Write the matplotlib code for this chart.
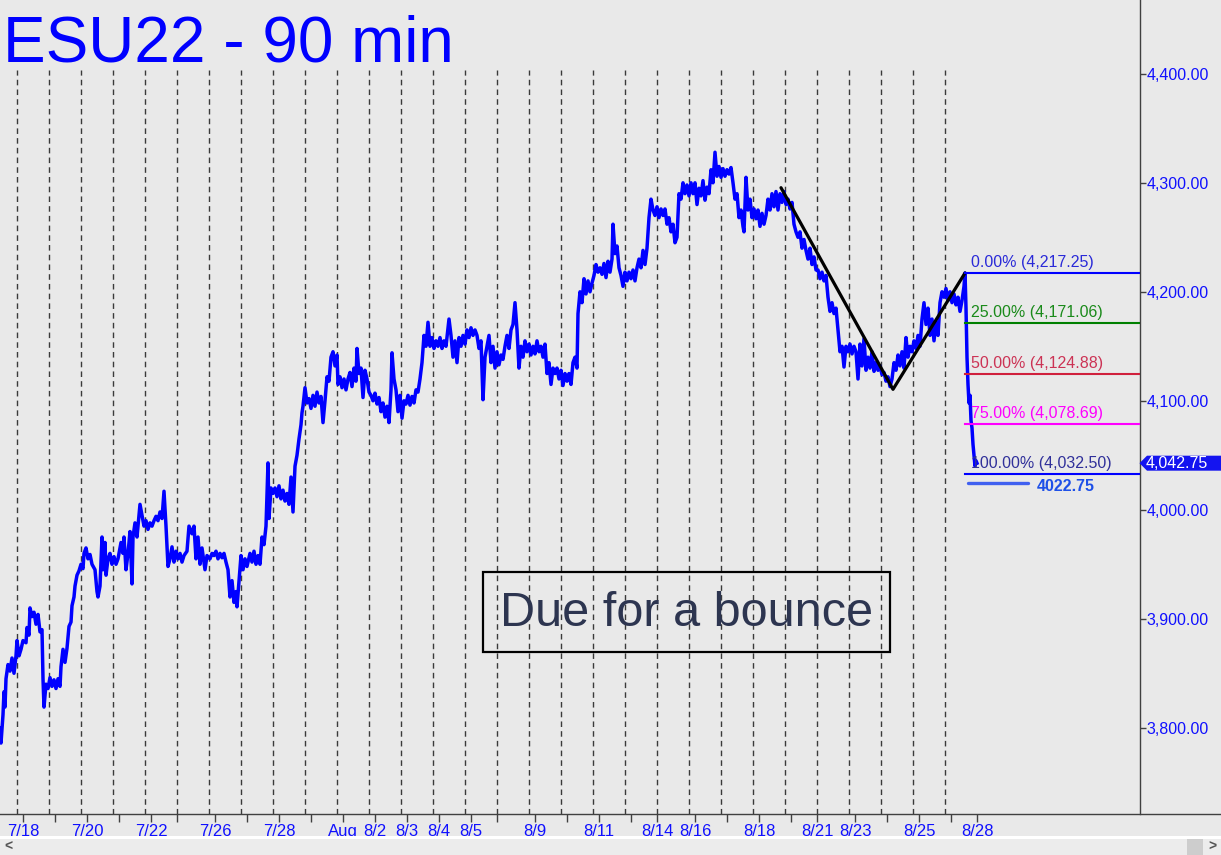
import numpy as np
import matplotlib
matplotlib.use("Agg")
import matplotlib.pyplot as plt
from matplotlib.patches import Rectangle, Polygon
from matplotlib.lines import Line2D
import matplotlib.transforms as mtransforms

plt.rcParams['font.family'] = ['Liberation Sans', 'DejaVu Sans']

# time axis: 45-minute steps counted from the 7/18 session open (32 steps per session)
t = [-17, -16, -14, -13, -12, -11, -9, -7, -5, -3, -1, 0, 2, 4, 6, 9, 10, 12, 13, 15,
     17, 19, 21, 23, 25, 26, 27, 29, 31, 33, 35, 37, 39, 41, 43, 44, 46, 48, 50, 52,
     54, 55, 57, 58, 60, 62, 64, 66, 67, 69, 71, 73, 75, 78, 80, 81, 83, 85, 86, 88,
     89, 91, 93, 95, 97, 99, 101, 104, 106, 107, 109, 111, 113, 115, 116, 118, 120, 122, 123, 125,
     127, 129, 131, 133, 135, 137, 139, 141, 143, 145, 147, 149, 151, 153, 155, 157, 159, 161, 163, 165,
     167, 170, 172, 175, 177, 179, 181, 183, 185, 188, 190, 193, 195, 197, 199, 201, 203, 205, 207, 209,
     211, 213, 215, 217, 219, 220, 222, 224, 226, 228, 230, 233, 235, 237, 239, 241, 243, 245, 247, 249,
     251, 252, 254, 256, 258, 260, 262, 264, 266, 268, 270, 272, 274, 276, 278, 280, 282, 284, 285, 286,
     288, 290, 292, 294, 296, 298, 300, 302, 304, 306, 308, 310, 312, 314, 316, 318, 320, 321, 323, 325,
     327, 329, 331, 333, 335, 337, 339, 340, 342, 344, 346, 348, 350, 352, 354, 356, 358, 360, 362, 364,
     366, 368, 370, 372, 374, 375, 377, 379, 381, 383, 385, 387, 389, 391, 393, 395, 397, 399, 401, 403,
     405, 407, 409, 411, 413, 415, 417, 419, 421, 423, 425, 427, 429, 432, 434, 436, 438, 440, 442, 444,
     446, 448, 450, 452, 454, 456, 458, 460, 462, 464, 466, 468, 470, 472, 474, 476, 478, 480, 482, 484,
     486, 488, 490, 492, 494, 496, 498, 500, 502, 504, 506, 508, 510, 512, 514, 516, 518, 520, 522, 524,
     526, 528, 530, 532, 534, 536, 538, 540, 542, 544, 546, 548, 550, 552, 554, 556, 558, 560, 561, 563,
     565, 567, 569, 571, 573, 575, 577, 579, 581, 583, 585, 587, 589, 591, 593, 595, 596, 598, 600, 602,
     604, 606, 608, 610, 612, 614, 616, 618, 620, 622, 624, 626, 628, 630, 632, 634, 636, 638, 640, 642,
     644, 646, 648, 650, 652, 654, 656, 658, 660, 662, 664, 666, 668, 670, 672, 674, 676, 678, 680, 682,
     684, 686, 688, 690, 692, 694, 696, 698, 700, 702, 704, 706, 708, 710, 712, 714, 716, 718, 720, 722,
     724, 726, 727, 729, 731, 733, 735, 737, 739, 741, 743, 745, 747, 749, 751, 753, 755, 757, 759, 761,
     763, 765, 767, 769, 771, 773, 775, 777, 779, 781, 783, 785, 787, 789, 791, 793, 795, 797, 799, 801,
     803, 805, 807, 809, 811, 813, 815, 817, 819, 821, 823, 825, 827, 829, 831, 833, 835, 837, 839, 841,
     843, 845, 847, 849, 851, 853, 855, 857, 859, 861, 863, 865, 867, 869, 871, 873, 875, 877, 879, 881,
     883, 885, 887, 889, 891, 893, 895, 897, 899, 901, 903, 905, 907, 909, 911, 913, 915, 917, 919, 921,
     923, 925, 927, 929, 931, 933, 935, 937, 939, 941, 943, 945, 947, 948, 949, 950, 951, 952, 953, 954,
     955, 956, 957, 958, 959, 960]

price = [3800, 3786, 3812, 3833, 3819, 3845, 3858, 3852, 3864, 3850, 3866, 3880, 3866, 3872, 3880, 3878, 3892, 3885, 3910, 3902,
         3906, 3895, 3904, 3888, 3890, 3845, 3819, 3840, 3836, 3846, 3838, 3844, 3836, 3845, 3838, 3856, 3872, 3860, 3873, 3893,
         3897, 3912, 3920, 3930, 3940, 3944, 3950, 3946, 3960, 3965, 3955, 3959, 3950, 3945, 3925, 3920, 3930, 3975, 3945, 3970,
         3940, 3955, 3960, 3950, 3957, 3950, 3955, 3970, 3960, 3975, 3945, 3960, 3980, 3932, 3975, 3988, 3975, 3995, 4005, 3995,
         3985, 3990, 3982, 3988, 3985, 3990, 3994, 3990, 3998, 3992, 4017, 3985, 3948, 3955, 3966, 3952, 3962, 3955, 3960, 3952,
         3958, 3962, 3985, 3978, 3985, 3955, 3975, 3950, 3965, 3945, 3958, 3955, 3960, 3958, 3962, 3955, 3960, 3956, 3960, 3952,
         3945, 3920, 3935, 3915, 3925, 3911, 3935, 3958, 3945, 3955, 3948, 3960, 3952, 3962, 3950, 3958, 3950, 3975, 3968, 3985,
         4043, 3992, 4020, 4015, 4020, 4012, 4022, 4010, 4018, 4008, 4015, 4005, 4030, 3998, 4040, 4050, 4065, 4078, 4089, 4095,
         4112, 4098, 4102, 4093, 4105, 4095, 4108, 4098, 4104, 4080, 4100, 4122, 4118, 4140, 4145, 4132, 4142, 4115, 4122, 4112,
         4120, 4110, 4120, 4126, 4113, 4130, 4118, 4148, 4125, 4130, 4103, 4128, 4120, 4108, 4105, 4100, 4107, 4097, 4103, 4090,
         4098, 4085, 4095, 4080, 4110, 4144, 4120, 4110, 4090, 4105, 4084, 4100, 4097, 4105, 4096, 4104, 4098, 4110, 4108, 4120,
         4135, 4160, 4150, 4172, 4150, 4158, 4148, 4155, 4150, 4158, 4148, 4155, 4150, 4175, 4160, 4140, 4155, 4135, 4158, 4150,
         4160, 4152, 4165, 4158, 4167, 4160, 4165, 4160, 4148, 4155, 4101, 4140, 4150, 4160, 4135, 4150, 4130, 4145, 4133, 4142,
         4138, 4150, 4160, 4148, 4165, 4170, 4190, 4165, 4130, 4150, 4140, 4155, 4145, 4152, 4142, 4150, 4143, 4155, 4145, 4150,
         4140, 4152, 4125, 4135, 4115, 4130, 4125, 4130, 4120, 4128, 4114, 4125, 4118, 4125, 4115, 4135, 4140, 4130, 4180, 4200,
         4190, 4212, 4198, 4210, 4200, 4208, 4215, 4225, 4218, 4222, 4216, 4226, 4213, 4228, 4218, 4230, 4262, 4235, 4242, 4222,
         4215, 4205, 4218, 4210, 4218, 4212, 4220, 4210, 4222, 4230, 4222, 4238, 4225, 4240, 4268, 4285, 4275, 4270, 4278, 4268,
         4276, 4270, 4276, 4262, 4268, 4255, 4262, 4245, 4250, 4290, 4285, 4300, 4290, 4298, 4288, 4300, 4290, 4300, 4280, 4295,
         4288, 4302, 4284, 4296, 4290, 4312, 4300, 4328, 4306, 4315, 4305, 4313, 4306, 4312, 4308, 4314, 4300, 4285, 4290, 4268,
         4275, 4260, 4255, 4305, 4275, 4285, 4268, 4276, 4267, 4275, 4260, 4272, 4262, 4270, 4285, 4275, 4290, 4278, 4292, 4275,
         4290, 4282, 4292, 4280, 4285, 4276, 4282, 4262, 4255, 4250, 4255, 4240, 4248, 4238, 4230, 4240, 4225, 4232, 4220, 4220,
         4212, 4218, 4210, 4215, 4195, 4182, 4190, 4180, 4185, 4165, 4145, 4150, 4131, 4150, 4145, 4152, 4143, 4150, 4145, 4120,
         4152, 4132, 4157, 4128, 4140, 4130, 4145, 4127, 4135, 4128, 4132, 4124, 4126, 4118, 4122, 4113, 4120, 4135, 4128, 4142,
         4132, 4145, 4130, 4158, 4140, 4150, 4145, 4155, 4148, 4160, 4150, 4175, 4190, 4170, 4185, 4160, 4175, 4155, 4172, 4160,
         4190, 4200, 4195, 4203, 4192, 4200, 4190, 4198, 4188, 4195, 4182, 4192, 4205, 4217.25, 4185, 4140, 4115, 4098, 4105, 4082,
         4075, 4060, 4050, 4040, 4045, 4042.75]

# date ticks (same time units)
tick_pos = [6, 38, 70, 102, 134, 160, 198, 230, 262, 294, 326, 358, 390, 422, 454, 480,
            518, 550, 582, 614, 640, 678, 710, 742, 774, 800, 838, 870, 902, 934, 960]
tick_lab = ['7/18', '', '7/20', '', '7/22', '', '7/26', '', '7/28', '', 'Aug', '8/2', '8/3',
            '8/4', '8/5', '', '8/9', '', '8/11', '', '8/14', '8/16', '', '8/18', '', '8/21',
            '8/23', '', '8/25', '', '8/28']

# swing drawn on the chart and retracement levels
swing_t = [764, 876, 948]
swing_p = [4295.5, 4110.5, 4217.25]
fib_pct = ['0.00%', '25.00%', '50.00%', '75.00%', '100.00%']
fib_val = [4217.25, 4171.06, 4124.88, 4078.69, 4032.50]
fib_col = ['#0000ff', '#008000', '#d0203c', '#ff00ff', '#0000ff']
fib_txt = ['#2a2ad8', '#1a8a1a', '#cc3355', '#ff00ff', '#30309a']
target = 4022.75
last_price = 4042.75

BG = '#e9e9e9'
W, H = 1221, 855
fig = plt.figure(figsize=(W / 100, H / 100), dpi=100, facecolor=BG)
ax_bottom = 814
ax_right = 1139.5
ax = fig.add_axes([0, (H - ax_bottom) / H, ax_right / W, ax_bottom / H])
ax.set_facecolor(BG)

ymin, ymax = 3720.9, 4467.7
ax.set_xlim(-17, 1122.5)
ax.set_ylim(ymin, ymax)

# session separators
ax.vlines(np.arange(0, 960, 32), ymin, 4403.5, colors='#3a3a3a',
          linestyles=(0, (4, 3)), linewidth=1.0, zorder=1)

ax.plot(t, price, '-', color='#0000ff', linewidth=2.5, zorder=3)
ax.plot(swing_t, swing_p, '-', color='black', linewidth=2.3, zorder=4,
        solid_capstyle='round')

for pct, val, lc, tc in zip(fib_pct, fib_val, fib_col, fib_txt):
    ax.plot([948, 1122.5], [val, val], '-', color=lc, linewidth=1.5, zorder=4)
    ax.text(954, val + 5.5, f'{pct} ({val:,.2f})', color=tc, fontsize=11.5,
            ha='left', va='baseline', zorder=5)

ax.plot([951, 1011], [target + 1.5, target + 1.5], '-', color='#4060f0',
        linewidth=2.4, solid_capstyle='round', zorder=4)
ax.text(1020, target - 1, f'{target:.2f}', color='#1e50e8', fontsize=11.5,
        fontweight='bold', ha='left', va='center', zorder=5)

# comment box
ax.add_patch(Rectangle((466, 3869.5), 407, 73.4, facecolor='none',
                       edgecolor='black', linewidth=1.6, zorder=5))
ax.text(669.5, 3893, 'Due for a bounce', fontsize=35, color='#2d3550',
        ha='center', va='baseline', zorder=6)

# axes styling
for s in ['top', 'left', 'bottom']:
    ax.spines[s].set_visible(False)
ax.spines['right'].set_color('#404040')
ax.spines['right'].set_linewidth(1.0)

ax.yaxis.tick_right()
ax.set_yticks([3800, 3900, 4000, 4100, 4200, 4300, 4400])
ax.set_yticklabels([f'{v:,.2f}' for v in [3800, 3900, 4000, 4100, 4200, 4300, 4400]])
ax.tick_params(axis='y', direction='out', length=4, width=1, color='#404040',
               labelcolor='#1010ff', labelsize=11.5, pad=1)

ax.set_xticks(tick_pos)
ax.set_xticklabels(tick_lab)
ax.tick_params(axis='x', direction='out', length=6, width=1, color='#404040',
               labelcolor='#1010ff', labelsize=12, pad=1)

# full-width bottom rule
fig.add_artist(Line2D([0, 1], [(H - ax_bottom) / H] * 2, color='#404040',
                      linewidth=1.0, transform=fig.transFigure))

# last price tag
trans = mtransforms.blended_transform_factory(fig.transFigure, ax.transData)
hh = 7.5 / 1.09
ax.add_patch(Polygon([[ax_right / W, last_price], [1147 / W, last_price + hh],
                      [1.0, last_price + hh], [1.0, last_price - hh],
                      [1147 / W, last_price - hh]], closed=True,
                     facecolor='#1414f0', edgecolor='none', transform=trans,
                     clip_on=False, zorder=6))
ax.text(1146 / W, last_price, f'{last_price:,.2f}', transform=trans, color='white',
        fontsize=11.5, ha='left', va='center', clip_on=False, zorder=7)

# title
fig.text(3 / W, 1 - 61 / H, 'ESU22 - 90 min', fontsize=46, color='#0000ff',
         ha='left', va='baseline')

# scroll bar strip
fig.add_artist(Rectangle((0, 1 - 839 / H), 1, 3 / H, transform=fig.transFigure,
                         facecolor='white', edgecolor='none'))
fig.add_artist(Rectangle((0, 0), 1, 16 / H, transform=fig.transFigure,
                         facecolor='#ececec', edgecolor='none'))
fig.add_artist(Rectangle((1187 / W, 0), 16 / W, 16 / H, transform=fig.transFigure,
                         facecolor='#cdcdcd', edgecolor='none'))
fig.text(8 / W, 8 / H, '<', fontsize=10, color='#555555', fontweight='bold',
         ha='center', va='center')
fig.text(1212 / W, 8 / H, '>', fontsize=10, color='#555555', fontweight='bold',
         ha='center', va='center')

fig.savefig('out.png', dpi=100, facecolor=BG)
